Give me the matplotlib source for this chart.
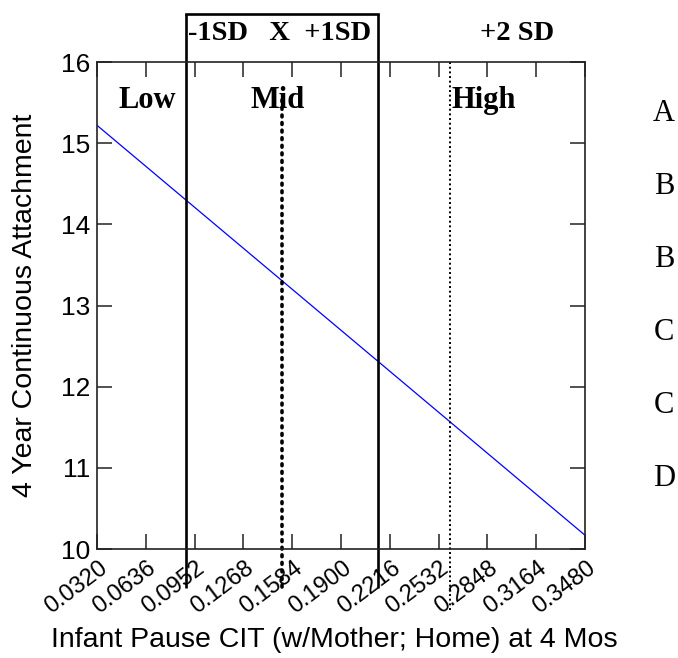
import matplotlib
matplotlib.use("Agg")
import matplotlib.pyplot as plt
from matplotlib.transforms import ScaledTranslation

# regression line end points (x, predicted attachment)
line_x = [0.0320, 0.3480]
line_y = [15.22, 10.17]

x_ticks = [0.0320, 0.0636, 0.0952, 0.1268, 0.1584, 0.1900, 0.2216,
           0.2532, 0.2848, 0.3164, 0.3480]
y_ticks = [10, 11, 12, 13, 14, 15, 16]

# markers: -1SD, mean, +1SD, +2SD
sd_minus1 = 0.0894
mean_x = 0.1516
sd_plus1 = 0.2140
sd_plus2 = 0.2604

region_labels = ["Low", "Mid", "High"]
region_x = [0.0644, 0.1489, 0.2826]
side_letters = ["A", "B", "B", "C", "C", "D"]
side_y = [15.41, 14.51, 13.61, 12.71, 11.81, 10.91]

W, H = 678, 658
L, R, T, B = 97, 585, 62, 549
fig = plt.figure(figsize=(W / 100, H / 100), dpi=100)
ax = fig.add_axes([L / W, 1 - B / H, (R - L) / W, (B - T) / H])


def yfrac(py):
    # pixel row -> axes fraction
    return (B - py) / (B - T)


def xfrac(px):
    return (px - L) / (R - L)


ax.plot(line_x, line_y, color="blue", linewidth=0.9)
ax.set_xlim(x_ticks[0], x_ticks[-1])
ax.set_ylim(y_ticks[0], y_ticks[-1])
ax.set_xticks(x_ticks)
ax.set_xticklabels([f"{v:.4f}" for v in x_ticks], rotation=37, ha="right",
                   va="center", rotation_mode="anchor", fontsize=17,
                   family="Liberation Sans")
ax.set_yticks(y_ticks)
ax.set_yticklabels([str(v) for v in y_ticks], fontsize=19, family="Liberation Sans")
ax.tick_params(direction="in", length=11, width=1.1, top=True, right=True,
               color="#222222", pad=5)
ax.tick_params(axis="x", pad=12)
for lbl in ax.get_xticklabels():
    lbl.set_transform(lbl.get_transform() + ScaledTranslation(0.08, 0, fig.dpi_scale_trans))
for s in ax.spines.values():
    s.set_linewidth(1.2)
    s.set_color("#222222")

ax.set_xlabel("Infant Pause CIT (w/Mother; Home) at 4 Mos", fontsize=20.5,
              family="Liberation Sans", va="center")
ax.xaxis.set_label_coords(xfrac(334), yfrac(640))
ax.set_ylabel("4 Year Continuous Attachment", fontsize=20.5,
              family="Liberation Sans", va="center")
ax.yaxis.set_label_coords(xfrac(25), 0.5)

# SD box and reference lines extend outside the axes
trans = ax.get_xaxis_transform()
top = yfrac(14)
for xv in (sd_minus1, sd_plus1):
    ax.plot([xv, xv], [yfrac(588), top], color="black", lw=1.9,
            transform=trans, clip_on=False, solid_capstyle="butt")
ax.plot([sd_minus1, sd_plus1], [top, top], color="black", lw=1.9,
        transform=trans, clip_on=False, solid_capstyle="projecting")
ax.plot([mean_x, mean_x], [yfrac(587), yfrac(97)], color="black", lw=2.6,
        linestyle=(0, (0.5, 1.6)), dash_capstyle="round", transform=trans,
        clip_on=False)
ax.plot([sd_plus2, sd_plus2], [yfrac(610), 1], color="black", lw=1.4,
        linestyle=(0, (1, 1.4)), transform=trans, clip_on=False)

ax.text(0.1505, yfrac(34), "-1SD   X  +1SD", transform=trans, ha="center",
        va="center", fontsize=20.5, fontweight="bold", family="Liberation Serif")
ax.text(0.3040, yfrac(34), "+2 SD", transform=trans, ha="center",
        va="center", fontsize=20.5, fontweight="bold", family="Liberation Serif")
for lab, xv in zip(region_labels, region_x):
    ax.text(xv, 15.53, lab, ha="center", va="center", fontsize=22,
            fontweight="bold", family="Liberation Serif")

for lab, yv in zip(side_letters, side_y):
    ax.text(1.162, yv - 0.04, lab, transform=ax.get_yaxis_transform(), ha="center",
            va="center", fontsize=22, family="Liberation Serif")

fig.savefig("out.png", dpi=100)
